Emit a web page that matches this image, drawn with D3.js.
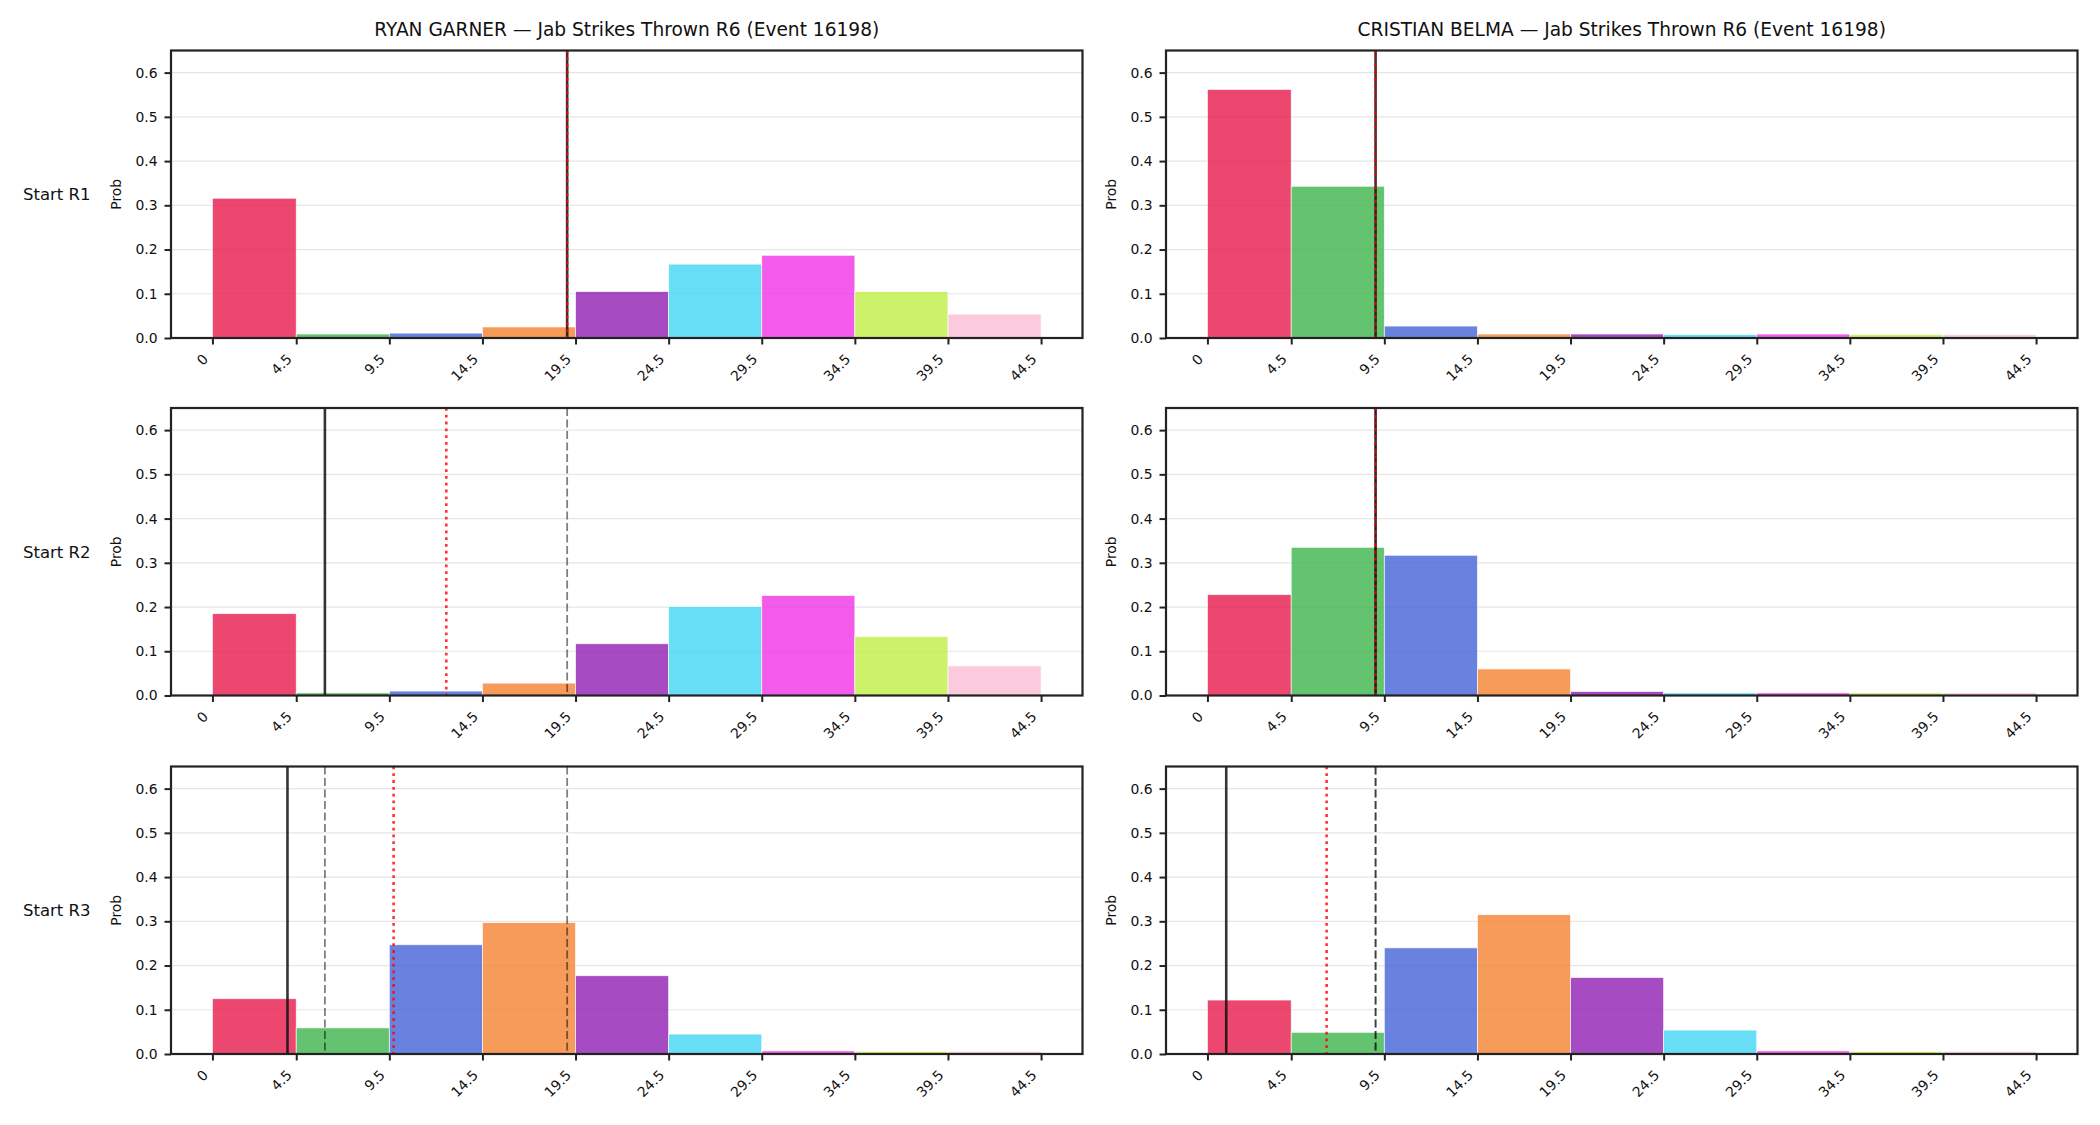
<!DOCTYPE html>
<html>
<head>
<meta charset="utf-8">
<script src="https://cdn.jsdelivr.net/npm/d3@7"></script>
<style>
  body { margin: 0; background: #fff; }
  svg { display: block; font-family: "DejaVu Sans", sans-serif; }
</style>
</head>
<body>
<div id="container"></div>
<script>
const width = 2100;
const height = 1125;

// bin edges and labels
const edges = [0, 4.5, 9.5, 14.5, 19.5, 24.5, 29.5, 34.5, 39.5, 44.5];
const tickLabels = ["0", "4.5", "9.5", "14.5", "19.5", "24.5", "29.5", "34.5", "39.5", "44.5"];
const yTicks = [0, 0.1, 0.2, 0.3, 0.4, 0.5, 0.6];
const binColors = ["#e6194b", "#3cb44b", "#4363d8", "#f58231", "#911eb4", "#42d4f4", "#f032e6", "#bfef45", "#fabed4"];

const fighters = ["RYAN GARNER", "CRISTIAN BELMA"];
const rowLabels = ["Start R1", "Start R2", "Start R3"];

// probabilities per bin, one row per starting round
const garnerProbs = [
    [0.316, 0.009, 0.011, 0.025, 0.105, 0.167, 0.187, 0.105, 0.054],
    [0.185, 0.006, 0.010, 0.028, 0.117, 0.201, 0.226, 0.133, 0.067],
    [0.125, 0.059, 0.247, 0.297, 0.177, 0.045, 0.007, 0.006, 0.006]
];
const belmaProbs = [
    [0.562, 0.343, 0.027, 0.009, 0.009, 0.008, 0.009, 0.008, 0.008],
    [0.228, 0.335, 0.317, 0.060, 0.009, 0.006, 0.006, 0.006, 0.006],
    [0.122, 0.049, 0.240, 0.315, 0.173, 0.054, 0.007, 0.006, 0.006]
];

// reference lines: solid (current), dotted (red), dashed = earlier solids
const garnerSolid = [19.05, 6.04, 4.03];
const garnerDotted = [19.05, 12.56, 9.73];
const belmaSolid = [9.03, 9.03, 1.01];
const belmaDotted = [9.03, 9.03, 6.40];

const panels = [
    { probs: garnerProbs, solid: garnerSolid, dotted: garnerDotted },
    { probs: belmaProbs, solid: belmaSolid, dotted: belmaDotted }
];

const colX = [171, 1166];
const rowY = [50.5, 408, 766.5];
const pw = 911.5;
const ph = 287.5;

const svg = d3.select("#container").append("svg")
    .attr("width", width)
    .attr("height", height);

const xScale = d3.scaleLinear().domain([-2.225, 46.725]).range([0, pw]);
const yScale = d3.scaleLinear().domain([0, 0.65]).range([ph, 0]);

panels.forEach((p, c) => {
    // column title
    svg.append("text")
        .attr("x", colX[c] + pw / 2)
        .attr("y", 36)
        .attr("text-anchor", "middle")
        .style("font-size", "18.6px")
        .style("fill", "#111")
        .text(fighters[c] + " \u2014 Jab Strikes Thrown R6 (Event 16198)");

    p.probs.forEach((vals, r) => {
        const g = svg.append("g")
            .attr("transform", "translate(" + colX[c] + "," + rowY[r] + ")");

        // grid
        g.selectAll("line.grid")
            .data(yTicks)
            .enter().append("line")
            .attr("class", "grid")
            .attr("x1", 0).attr("x2", pw)
            .attr("y1", d => yScale(d)).attr("y2", d => yScale(d))
            .attr("stroke", "#e6e6e6")
            .attr("stroke-width", 1.2);

        // bars
        g.selectAll("rect.bar")
            .data(vals)
            .enter().append("rect")
            .attr("class", "bar")
            .attr("x", (d, i) => xScale(edges[i]))
            .attr("width", (d, i) => xScale(edges[i + 1]) - xScale(edges[i]))
            .attr("y", d => yScale(d))
            .attr("height", d => yScale(0) - yScale(d))
            .attr("fill", (d, i) => binColors[i])
            .attr("fill-opacity", 0.8)
            .attr("stroke", "#fff")
            .attr("stroke-opacity", 0.8)
            .attr("stroke-width", 0.8);

        // earlier rounds, dashed
        const dashed = p.solid.slice(0, r);
        g.selectAll("line.prev")
            .data(dashed)
            .enter().append("line")
            .attr("class", "prev")
            .attr("x1", d => xScale(d)).attr("x2", d => xScale(d))
            .attr("y1", 0).attr("y2", ph)
            .attr("stroke", "#000")
            .attr("stroke-opacity", 0.5)
            .attr("stroke-width", 1.8)
            .attr("stroke-dasharray", "8,3.5");

        // current, solid
        g.append("line")
            .attr("x1", xScale(p.solid[r])).attr("x2", xScale(p.solid[r]))
            .attr("y1", 0).attr("y2", ph)
            .attr("stroke", "#111")
            .attr("stroke-opacity", 0.85)
            .attr("stroke-width", 2.6);

        // expected, red dotted
        g.append("line")
            .attr("x1", xScale(p.dotted[r])).attr("x2", xScale(p.dotted[r]))
            .attr("y1", 0).attr("y2", ph)
            .attr("stroke", "red")
            .attr("stroke-opacity", 0.8)
            .attr("stroke-width", 2.6)
            .attr("stroke-dasharray", "2.8,4");

        // axes
        const yaxis = d3.axisLeft(yScale)
            .tickValues(yTicks)
            .tickFormat(d3.format(".1f"))
            .tickSize(6.5)
            .tickPadding(7);
        const ya = g.append("g").call(yaxis);

        const xaxis = d3.axisBottom(xScale)
            .tickValues(edges)
            .tickFormat((d, i) => tickLabels[i])
            .tickSize(6.5);
        const xa = g.append("g")
            .attr("transform", "translate(0," + ph + ")")
            .call(xaxis);
        xa.selectAll("text")
            .attr("y", 0).attr("dy", null)
            .attr("text-anchor", "end")
            .attr("transform", d => "translate(-4,22) rotate(-45)");

        [ya, xa].forEach(a => {
            a.select(".domain").remove();
            a.selectAll("line").attr("stroke", "#222").attr("stroke-width", 2);
            a.selectAll("text")
                .style("font-size", "13.9px")
                .style("font-family", "DejaVu Sans, sans-serif")
                .attr("fill", "#111");
        });

        // frame
        g.append("rect")
            .attr("width", pw).attr("height", ph)
            .attr("fill", "none")
            .attr("stroke", "#222")
            .attr("stroke-width", 2.2);

        // y label
        g.append("text")
            .attr("transform", "translate(" + (-50) + "," + (ph / 2) + ") rotate(-90)")
            .attr("text-anchor", "middle")
            .style("font-size", "13.9px")
            .style("fill", "#111")
            .text("Prob");

        // row label on the left column only
        if (c === 0) {
            svg.append("text")
                .attr("x", 23)
                .attr("y", rowY[r] + ph / 2 + 6)
                .style("font-size", "16.5px")
                .style("fill", "#111")
                .text(rowLabels[r]);
        }
    });
});
</script>
</body>
</html>
